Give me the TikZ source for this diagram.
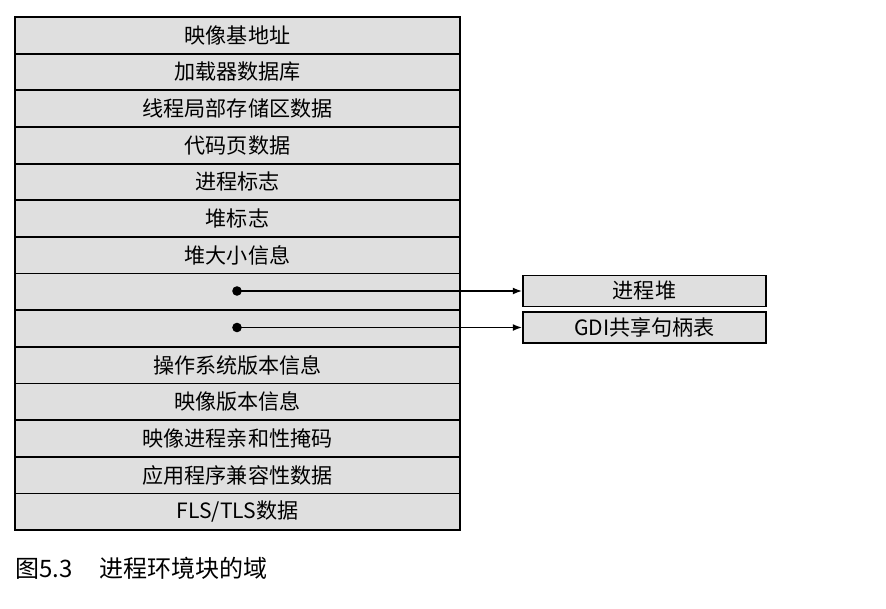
\documentclass[tikz,border=0pt]{standalone}
\usepackage{fontspec}
\setmainfont{Noto Sans CJK SC}
\usetikzlibrary{arrows.meta}

\begin{document}
\begin{tikzpicture}[x=0.03cm, y=-0.03cm,
    field/.style={draw, rectangle, line width=1.5pt, fill=gray!25, minimum width=13.35cm, minimum height=1.098cm, inner sep=0pt, font=\fontsize{18}{21}\selectfont},
    target/.style={draw, rectangle, line width=1.5pt, fill=gray!25, minimum width=7.29cm, minimum height=0.93cm, inner sep=0pt, font=\fontsize{18}{21}\selectfont},
    arrow/.style={line width=1.4pt, -{Latex[length=0.28cm, width=0.21cm]}}
]
    \useasboundingbox (0,0) rectangle (886,608);

    % PEB fields, top to bottom
    \foreach \t [count=\i] in {映像基地址, 加载器数据库, 线程局部存储区数据, 代码页数据, 进程标志, 堆标志, 堆大小信息, {}, {}, 操作系统版本信息, 映像版本信息, 映像进程亲和性掩码, 应用程序兼容性数据, FLS/TLS数据}
        \node[field] (f\i) at (237.5, {17+(\i-0.5)*36.65}) {\t};

    \node[target] (heap) at (644.5, 291) {进程堆};
    \node[target] (gdi) at (644.5, 327.5) {GDI共享句柄表};

    \coordinate (p8) at (237, 291);
    \coordinate (p9) at (237, 327.5);
    \fill (p8) circle (4.8);
    \fill (p9) circle (4.8);
    \draw[arrow] (p8) -- (heap);
    \draw[arrow] (p9) -- (gdi);

    \node[anchor=west, inner sep=0pt, font=\fontsize{20.5}{24}\selectfont] (caption) at (15, 568) {图5.3\hspace{1.1em}进程环境块的域};
\end{tikzpicture}
\end{document}
